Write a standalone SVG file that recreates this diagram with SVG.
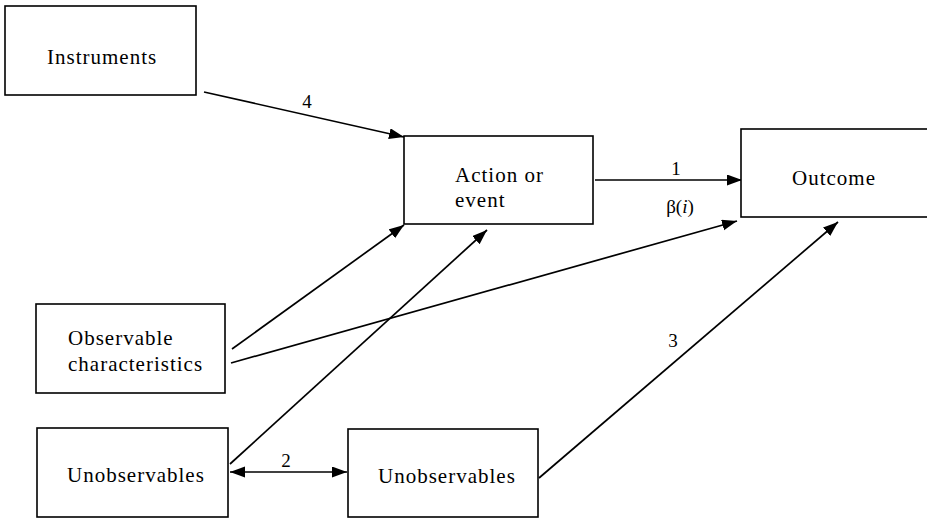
<svg xmlns="http://www.w3.org/2000/svg" width="927" height="518" viewBox="0 0 927 518">
<style>
.box{fill:#fff;stroke:#000;stroke-width:1.6}
.t{font-family:"Liberation Serif","Times New Roman",serif;font-size:21px;letter-spacing:1px;fill:#000}
.n{font-family:"Liberation Serif","Times New Roman",serif;font-size:19px;fill:#000;text-anchor:middle}
.c{fill:none;stroke:#000;stroke-width:1.7}
</style>
<defs>
<marker id="ah" markerUnits="userSpaceOnUse" markerWidth="16" markerHeight="12" refX="15" refY="5.5" orient="auto-start-reverse">
<path d="M0,0 L15,5.5 L0,11 z" fill="#000"/>
</marker>
</defs>
<g id="connectors">
<line class="c" x1="204" y1="92" x2="404" y2="137" marker-end="url(#ah)"/>
<line class="c" x1="595" y1="180" x2="742" y2="180" marker-end="url(#ah)"/>
<line class="c" x1="232" y1="349" x2="404" y2="225" marker-end="url(#ah)"/>
<line class="c" x1="231" y1="363" x2="737" y2="221" marker-end="url(#ah)"/>
<line class="c" x1="230" y1="464" x2="487" y2="230" marker-end="url(#ah)"/>
<line class="c" x1="539" y1="478" x2="838" y2="222" marker-end="url(#ah)"/>
<line class="c" x1="230" y1="472" x2="347" y2="472" marker-start="url(#ah)" marker-end="url(#ah)"/>
<text class="n" x="307" y="108">4</text>
<text class="n" x="676" y="175">1</text>
<text class="n" x="680" y="213">β(<tspan font-style="italic">i</tspan>)</text>
<text class="n" x="286" y="467">2</text>
<text class="n" x="673" y="347">3</text>
</g>
<g id="instruments">
<rect class="box" x="5" y="6" width="191" height="89"/>
<text class="t" x="47" y="64">Instruments</text>
</g>
<g id="action">
<rect class="box" x="404" y="136" width="189" height="88"/>
<text class="t" x="455" y="182">Action or</text>
<text class="t" x="455" y="207">event</text>
</g>
<g id="outcome">
<rect class="box" x="741" y="129" width="200" height="88"/>
<text class="t" x="792" y="185">Outcome</text>
</g>
<g id="observable">
<rect class="box" x="36" y="304" width="189" height="89"/>
<text class="t" x="68" y="345">Observable</text>
<text class="t" x="68" y="371">characteristics</text>
</g>
<g id="unobservables-left">
<rect class="box" x="37" y="428" width="191" height="89"/>
<text class="t" x="67" y="482">Unobservables</text>
</g>
<g id="unobservables-right">
<rect class="box" x="348" y="429" width="190" height="88"/>
<text class="t" x="378" y="483">Unobservables</text>
</g>
</svg>
